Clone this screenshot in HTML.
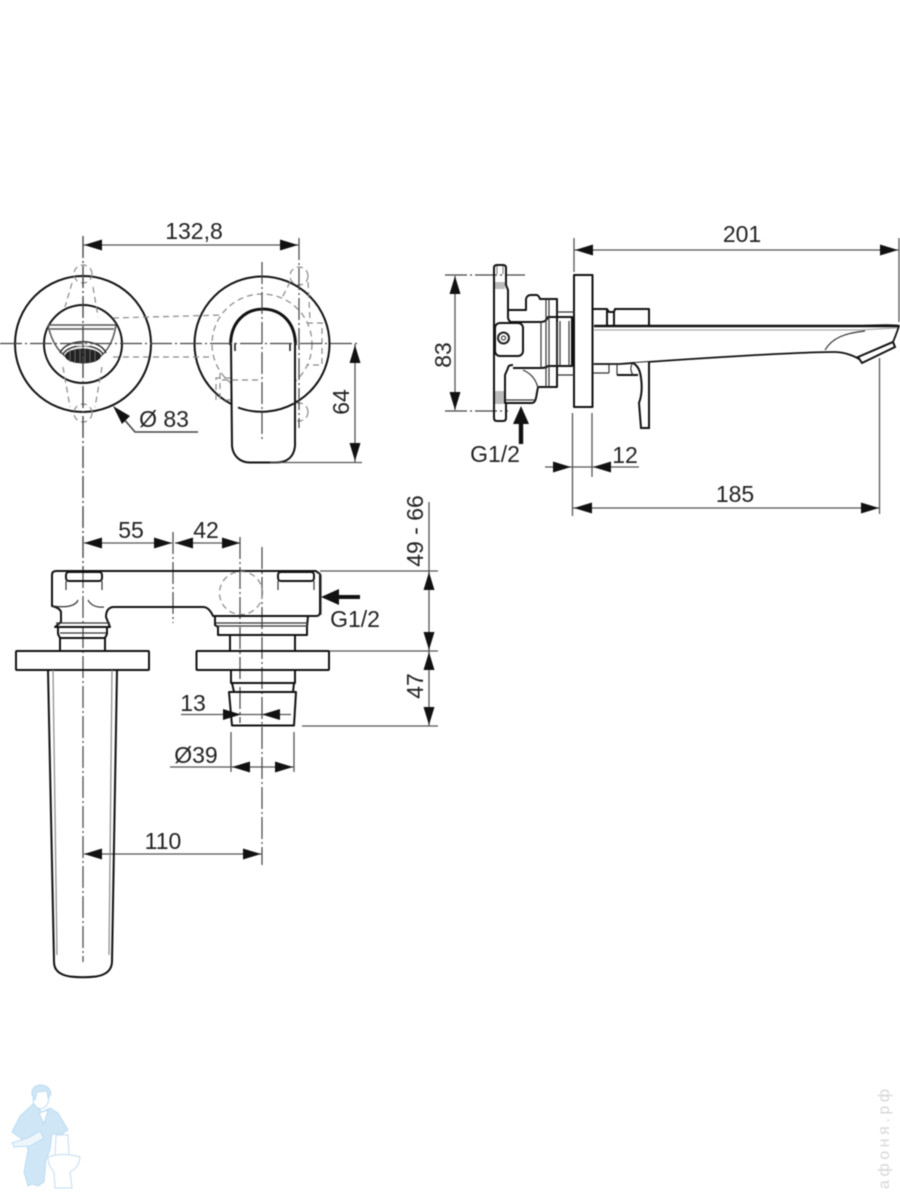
<!DOCTYPE html>
<html><head><meta charset="utf-8"><style>
html,body{margin:0;padding:0;background:#fff;width:900px;height:1200px;overflow:hidden}
svg{display:block;filter:blur(.4px)}
text{font-family:"Liberation Sans",sans-serif;font-size:23px;fill:#222}
.o{fill:none;stroke:#111;stroke-width:2;stroke-linejoin:round}
.t{fill:none;stroke:#333;stroke-width:1.2}
.d{fill:none;stroke:#555;stroke-width:1.3}
.c{fill:none;stroke:#444;stroke-width:1.2;stroke-dasharray:22 3 2 3}
.h{fill:none;stroke:#888;stroke-width:1.2;stroke-dasharray:6 4}
.a{fill:#111}
</style></head><body>
<svg width="900" height="1200" viewBox="0 0 900 1200" xmlns="http://www.w3.org/2000/svg">
<defs>
<path id="ar" d="M0 0L18 -5.500V5.500Z" class="a"/>
</defs>

<!-- FRONT VIEW -->
<circle class="o" cx="83" cy="344" r="68"/>
<circle class="o" cx="83" cy="344" r="39"/>
<circle class="o" cx="262" cy="344" r="67.500"/>
<circle class="h" cx="262" cy="344" r="50"/>
<path class="h" d="M113 318L223 315M113 357H213M307 323H322V365H307"/>
<circle class="h" cx="83" cy="274" r="9"/><circle class="h" cx="83" cy="413" r="9"/>
<circle class="h" cx="299" cy="276" r="9"/><circle class="h" cx="299" cy="412" r="9"/>
<path class="h" d="M72 283L65 307M93 287L98 317M63 367L70 407M102 367L95 407M290 282L282 298M308 282L310 320M220 373V400M225 400H262M283 385L290 405"/>
<!-- spout outlet -->
<path fill="none" stroke="#555" stroke-width="1.500" d="M48 325H116M50 329H114M48 325C52 345 62 356 72 360M116 325C113 345 104 356 94 360"/>
<path fill="none" stroke="#333" stroke-width="1.500" d="M60 353C66 338 100 338 106 353M63 354C70 343 96 343 103 354"/>
<ellipse cx="83" cy="356" rx="18" ry="7.500" fill="#222"/>
<path stroke="#666" stroke-width="1" d="M70 350V362M75 349V363M80 349V363M85 349V363M90 349V363M95 350V362"/>
<rect x="76" y="343.500" width="14" height="2.500" fill="#fff"/>
<!-- handle -->
<path d="M231 345L232 446C233 456 240 462.500 250 462.500H276C288 462.500 294 456 295 446V345C295 322 280 309.500 263 309.500C246 309.500 231 322 231 345Z" fill="#fff" stroke="#111" stroke-width="2"/>
<path fill="none" stroke="#111" stroke-width="2.800" d="M230.500 345C230.500 322 245 309 263 309C281 309 295.500 322 295.500 345"/>
<path fill="none" stroke="#111" stroke-width="1.500" d="M235 343V351M290 343V351"/>
<path class="o" d="M238 407.500A67.500 67.500 0 0 0 294 403.500"/>
<path class="h" d="M230 378H216V400M222 380H260"/>
<path class="c" d="M0 343.500H360M83 236V570M262 262V440M299 238V428"/>
<path class="d" d="M83 245H299"/>
<use href="#ar" x="84" y="245"/><use href="#ar" transform="translate(298 245) scale(-1 1)"/>
<text x="194" y="239" text-anchor="middle">132,8</text>
<path class="d" d="M270 462.500H362M355 344V462"/>
<use href="#ar" transform="translate(355 345) rotate(90)"/><use href="#ar" transform="translate(355 461) rotate(-90)"/>
<text transform="translate(349 402) rotate(-90)" text-anchor="middle">64</text>
<!-- Ø83 -->
<path fill="none" stroke="#444" stroke-width="1.600" d="M116 410L135 432H198"/>
<path d="M113 406L130 416L122 424Z" class="a"/>
<text x="164" y="427" text-anchor="middle">Ø 83</text>

<!-- SIDE VIEW -->
<path class="d" d="M574 238V272M899 238V322M574 250H899M572.500 413V516M592 413V477M879.500 358V514M573 508H880M545 467H639"/>
<use href="#ar" x="575" y="250"/><use href="#ar" transform="translate(898 250) scale(-1 1)"/>
<text x="742" y="242" text-anchor="middle">201</text>
<use href="#ar" transform="translate(571 467) scale(-1 1)"/><use href="#ar" x="593" y="467"/>
<text x="625" y="463" text-anchor="middle">12</text>
<use href="#ar" x="574" y="508"/><use href="#ar" transform="translate(879 508) scale(-1 1)"/>
<text x="735" y="502" text-anchor="middle">185</text>

<path class="c" d="M445 275H525M445 411H508"/>
<path class="d" d="M455 276V410"/>
<use href="#ar" transform="translate(455 276) rotate(90)"/><use href="#ar" transform="translate(455 410) rotate(-90)"/>
<text transform="translate(451 355) rotate(-90)" text-anchor="middle">83</text>

<!-- plate -->
<rect class="o" x="574" y="275" width="18.500" height="132" fill="#fff"/>
<!-- wall mount flange -->
<path class="o" d="M494 268Q494 265 497 265H503Q506 265 506 268V285L508 290V318Q509 322 513 323M494 268V418Q494 421 497 421H503Q506 421 506 418V403"/>
<path fill="#bbb" d="M495 282H505V289H495ZM495 391H504V404H495Z"/>
<path stroke="#777" stroke-width="1" d="M497 266V274M503 266V274"/>
<!-- body -->
<path class="o" d="M508 310H526V299Q527 295 531 295H537Q539 296 540 299H557V387H538L536 398Q535 403 532 403H505V375L508 368Q508 365 513 365"/>
<path class="o" d="M510 322H541Q546 322 548 317H572V366H548Q546 368 541 368H513"/>
<path class="t" d="M541 322V368M546 299V387M549 299V387M557 322V366M560 321V366M569 321V366M557 312H574M557 375H574"/>
<path class="t" d="M523 370C532 374 536 380 538 388M505 400H535"/>
<rect x="495" y="323" width="28" height="33" rx="5" fill="#fff" stroke="#111" stroke-width="2"/>
<circle cx="503.500" cy="338" r="5.500" fill="none" stroke="#222" stroke-width="2"/><circle cx="503.500" cy="338" r="2" fill="none" stroke="#222"/>
<!-- spout side -->
<path class="o" d="M593 309H607L609 312H614L615 309H649V325M607 309V325M614 312V325"/>
<path class="t" d="M593 364H609M593 373H609M609 364V373M617 365V375"/>
<path d="M594 326H860C880 325 895 325 899 326C897 332 895 338 892 344L862 361C858 358 847 352 835 352C800 352 700 358 620 364H594" fill="#fff" stroke="#111" stroke-width="1.800"/>
<path fill="none" stroke="#111" stroke-width="2.500" d="M594 326H899"/>
<path fill="none" stroke="#999" stroke-width="1" d="M594 330H860L897 328"/>
<path class="t" d="M825 350C832 338 845 333 865 331"/>
<path fill="#fff" stroke="#111" stroke-width="2" d="M858 357L893 342L895 347L862 363Z"/>
<!-- lever -->
<path fill="#fff" stroke="#111" stroke-width="2" d="M649 362V428H641L639 403C642 395 642 385 641 378C640 370 638 366 633 363"/>
<path class="o" d="M617 375H638"/>
<path class="t" d="M632 364C630 368 631 372 633 375"/>
<!-- G1/2 side -->
<path d="M521 406L529 424H523.200V444H518.800V424H513Z" class="a"/>
<text x="495" y="462" text-anchor="middle">G1/2</text>

<!-- BOTTOM VIEW -->
<path class="d" d="M320 571H438M329 651H438M302 726H438M429 502V726M231 732V772M294 732V772M170 767H294M181 714.500H291M84 854H262"/>
<path class="c" d="M83 236V962M173 532V623M240 537V723M262 547V865"/>
<path class="d" d="M84 543H172M175 543H240"/>
<use href="#ar" x="84" y="543"/><use href="#ar" transform="translate(172 543) scale(-1 1)"/>
<use href="#ar" x="175" y="543"/><use href="#ar" transform="translate(240 543) scale(-1 1)"/>
<text x="131" y="538" text-anchor="middle">55</text>
<text x="206" y="538" text-anchor="middle">42</text>
<text transform="translate(423 531) rotate(-90)" text-anchor="middle">49 - 66</text>
<use href="#ar" transform="translate(429 572) rotate(90)"/><use href="#ar" transform="translate(429 650) rotate(-90)"/>
<use href="#ar" transform="translate(429 652) rotate(90)"/><use href="#ar" transform="translate(429 725) rotate(-90)"/>
<text transform="translate(423 686) rotate(-90)" text-anchor="middle">47</text>

<!-- body -->
<path class="o" d="M52 575Q52 571 56 571H316L320 574V612Q320 616 316 616H213Q209 607 203 607H113Q106 608 106 617L110 627H55L61 622V612Q60 608 52 606Z"/>
<path class="t" d="M316 572L321 575V614L318 616"/>
<path class="o" d="M58 628V634L60 638H105L107 634V628M60 638V651M105 638V651"/>
<path class="t" d="M56 623H110M60 633H106"/>
<path class="t" d="M53 606C66 608 76 606 78 600M104 607C95 608 90 604 88 600"/>
<rect class="o" x="66" y="572" width="36" height="9" rx="3" stroke-width="1.600"/>
<rect class="o" x="278" y="572" width="36" height="9" rx="3" stroke-width="1.600"/>
<path class="t" d="M66 581V590M102 581V590M278 581V590M314 581V590"/>
<path class="o" d="M215 616V625L218 627V635H307V627L308 616M230 635V651M295 635V651"/>
<path class="t" d="M216 623H308M216 626H308"/>
<circle class="h" cx="241" cy="593" r="21.500"/>
<rect class="o" x="16" y="651" width="133" height="19" rx="1"/>
<rect class="o" x="196.500" y="651" width="132.500" height="19" rx="1"/>
<path class="o" d="M231 670V683H295V670M232 683L234 692M294 683L293 692M229 692H296L294 725.500H232Z"/>
<!-- tall spout -->
<path fill="none" stroke="#111" stroke-width="2" d="M48 670L54 962Q54 974 70 976.500Q83 978 96 976.500Q111.500 974 112 962L117 670"/>
<path fill="none" stroke="#888" stroke-width="1.200" d="M53 670L57 955M112 670L109 955"/>

<use href="#ar" x="84" y="854"/><use href="#ar" transform="translate(261 854) scale(-1 1)"/>
<text x="163" y="849" text-anchor="middle">110</text>
<use href="#ar" transform="translate(241 714.500) scale(-1 1)"/><use href="#ar" x="262" y="714.500"/>
<text x="193" y="711" text-anchor="middle">13</text>
<use href="#ar" x="232" y="767"/><use href="#ar" transform="translate(293 767) scale(-1 1)"/>
<text x="196" y="763" text-anchor="middle">Ø39</text>
<path d="M321 597L339 589V595H360V599H339V605Z" class="a"/>
<text x="355" y="627" text-anchor="middle">G1/2</text>

<!-- Mascot -->
<g stroke="#bcdcf1" stroke-width="1">
<path d="M33 1104L42 1112L50 1108L58 1113L68 1130L62 1134H52L50 1150L46 1160L44 1182L38 1186L32 1184L28 1186L24 1172L28 1150L26 1142L12 1132L20 1116Z" fill="#cfe6f6"/>
<path d="M39 1113L44 1124L48 1110Z" fill="#fff"/>
<path d="M33 1100Q33 1106 40 1109Q48 1108 49 1098L48 1090H35Z" fill="#fff"/>
<path d="M32 1095Q31 1085 42 1085Q50 1086 51 1094L48 1098L47 1091L37 1092L35 1100Z" fill="#cfe6f6"/>
<path d="M12 1143L28 1138L40 1131L44 1138L30 1146L14 1147Z" fill="#eef6fc"/>
</g>
<g fill="#fff" stroke="#cbe2f2" stroke-width="1.200">
<path d="M56 1135H68L69 1155H55Z"/>
<path d="M48 1157Q64 1152 80 1157Q79 1168 70 1172L72 1188H55L54 1172Q48 1166 48 1157Z"/>
</g>

<!-- watermark -->
<text transform="translate(889 1189) rotate(-90)" textLength="100" style="font-size:16px;fill:#d6d6d6">афоня.рф</text>
</svg>
</body></html>
